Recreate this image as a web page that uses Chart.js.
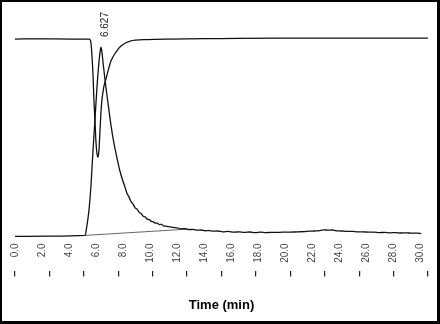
<!DOCTYPE html>
<html>
<head>
<meta charset="utf-8">
<script src="https://cdn.jsdelivr.net/npm/chart.js@4/dist/chart.umd.min.js"></script>
<style>
  html, body { margin: 0; padding: 0; background: #fff; }
  #wrap { position: relative; width: 440px; height: 324px; }
  #frame {
    position: absolute; left: 0; top: 0; width: 440px; height: 324px;
    box-sizing: border-box; pointer-events: none;
    border-left: 2px solid #000; border-top: 2px solid #000;
    border-right: 3px solid #000; border-bottom: 3px solid #000;
  }
</style>
</head>
<body>
<div id="wrap">
  <canvas id="chrom" width="440" height="324"></canvas>
  <div id="frame"></div>
</div>
<script>
// tick labels (min) and recorder time marks
const X_TICKS = [0, 2, 4, 6, 8, 10, 12, 14, 16, 18, 20, 22, 24, 26, 28, 30];
const PEAK_LABEL = '6.627';

// trace with the dip (top line)
const dipTime = [0, 1.85, 4.07, 5.48, 5.56, 5.63, 5.70, 5.78, 5.85, 5.93, 6.00, 6.07, 6.15, 6.22,
  6.30, 6.37, 6.44, 6.52, 6.59, 6.74, 6.89, 7.11, 7.48, 7.85, 8.52, 9.78, 11.48, 15.19, 19.63, 24.81, 30.59];
const dipSignal = [99.5, 99.6, 99.5, 99.5, 99.2, 97.5, 91.5, 81.5, 69, 58, 48, 42.5, 40.5, 44,
  54, 63, 69, 73, 76, 79.5, 83.5, 88.5, 93, 96, 98.5, 99.25, 99.5, 99.75, 100, 100, 100];

// peak trace (bottom line)
const peakTime = [0, 2.59, 5.19, 5.33, 5.48, 5.63, 5.78, 5.93, 6.07, 6.22, 6.30, 6.37, 6.44, 6.52,
  6.67, 6.89, 7.11, 7.33, 7.56, 7.78,
  8.0, 8.15, 8.3, 8.45, 8.6, 8.75, 8.9, 9.05, 9.2, 9.35, 9.5, 9.65, 9.8, 9.95, 10.1, 10.25, 10.4,
  10.55, 10.7, 10.85, 11.0, 11.2, 11.4, 11.6, 11.8, 12.0, 12.3, 12.6, 12.9, 13.2, 13.5, 13.8, 14.1,
  14.4, 14.7, 15.0, 15.4, 15.8, 16.2, 16.6, 17.0, 17.4, 17.8, 18.2, 18.6, 19.0, 19.4, 19.8, 20.2,
  20.6, 21.0, 21.4, 21.8, 22.2, 22.6, 22.9, 23.2, 23.5, 23.8, 24.2, 24.6, 25.0, 25.4, 25.8, 26.2,
  26.6, 27.0, 27.4, 27.8, 28.2, 28.6, 29.0, 29.4, 29.8, 30.1];
const peakSignal = [1.0, 1.1, 1.5, 6.5, 14, 26.5, 44, 60, 75, 88, 93, 95.5, 93, 88,
  79, 67.5, 56.5, 47.5, 40, 33.5,
  28.5, 25.6, 22.4, 20.6, 18.3, 17.1, 15.2, 14.6, 13.0, 12.4, 11.1, 10.7, 9.6, 9.4, 8.5, 8.3, 7.6,
  7.6, 6.9, 7.0, 6.3, 6.1, 5.9, 5.6, 5.4, 5.3, 4.8, 4.9, 4.4, 4.5, 4.1, 4.2, 3.8,
  3.9, 3.6, 3.7, 3.3, 3.5, 3.1, 3.3, 3.0, 3.2, 2.9, 3.1, 2.9, 3.0, 3.0, 3.1, 3.1,
  3.2, 3.3, 3.4, 3.6, 3.7, 3.9, 4.3, 4.1, 4.2, 3.8, 3.7, 3.5, 3.5, 3.3, 3.3, 3.1,
  3.1, 2.9, 3.0, 2.8, 2.9, 2.7, 2.8, 2.6, 2.6, 2.4];

// integration baseline under the peak
const baseTime = [5.19, 12.74];
const baseSignal = [1.5, 4.6];

const toPoints = (ts, vs) => ts.map((t, i) => ({ x: t, y: vs[i] }));

// rotated retention-time label above the peak
const peakLabelPlugin = {
  id: 'peakLabel',
  afterDatasetsDraw(chart) {
    const ds = chart.data.datasets[1].data;
    let top = ds[0];
    ds.forEach(p => { if (p.y > top.y) top = p; });
    const px = chart.scales.x.getPixelForValue(top.x);
    const py = chart.scales.y.getPixelForValue(top.y);
    const ctx = chart.ctx;
    ctx.save();
    ctx.translate(px + 4, py - 10);
    ctx.rotate(-Math.PI / 2);
    ctx.fillStyle = '#222';
    ctx.font = '10px "Liberation Sans", Arial, sans-serif';
    ctx.textAlign = 'left';
    ctx.textBaseline = 'middle';
    ctx.fillText(PEAK_LABEL, 0, 0);
    ctx.restore();
  }
};

const lineStyle = { borderColor: '#111', borderWidth: 1.3, pointRadius: 0, fill: false, cubicInterpolationMode: 'monotone' };

new Chart(document.getElementById('chrom'), {
  type: 'line',
  data: {
    datasets: [
      { ...lineStyle, data: toPoints(dipTime, dipSignal) },
      { ...lineStyle, data: toPoints(peakTime, peakSignal) },
      { ...lineStyle, borderColor: '#666', borderWidth: 1, data: toPoints(baseTime, baseSignal) }
    ]
  },
  options: {
    responsive: false,
    animation: false,
    layout: { padding: { left: 15, right: 12, top: 18, bottom: 7 } },
    plugins: { legend: { display: false }, tooltip: { enabled: false } },
    scales: {
      x: {
        type: 'linear', min: 0, max: 30.6, weight: 0,
        grid: { display: false, drawTicks: false },
        border: { display: false },
        afterBuildTicks: s => { s.ticks = X_TICKS.map(v => ({ value: v })); },
        afterFit: s => { s.height = 33; },
        ticks: {
          autoSkip: false, minRotation: 90, maxRotation: 90, padding: 5,
          color: '#444', font: { family: '"Liberation Sans", Arial, sans-serif', size: 10 },
          callback: v => Number(v).toFixed(1)
        }
      },
      x2: {
        type: 'linear', position: 'bottom', min: 0, max: 12, weight: 1,
        grid: { display: true, drawOnChartArea: false, drawTicks: true, tickLength: 5, color: '#222', lineWidth: 1.2 },
        border: { display: false },
        ticks: { display: false, stepSize: 1 },
        title: {
          display: true, text: 'Time (min)', color: '#000',
          font: { family: '"Liberation Sans", Arial, sans-serif', size: 13, weight: 'bold' },
          padding: { top: 21, bottom: 4 }
        }
      },
      y: { type: 'linear', min: 0, max: 110, display: false }
    }
  },
  plugins: [peakLabelPlugin]
});
</script>
</body>
</html>
